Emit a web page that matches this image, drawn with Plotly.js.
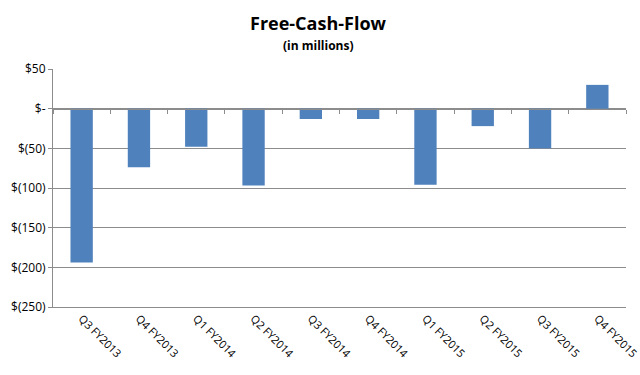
<!DOCTYPE html>
<html>
<head>
<meta charset="utf-8">
<script src="https://cdn.plot.ly/plotly-3.0.1.min.js"></script>
<style>html,body{margin:0;padding:0;background:#fff;}#chart{width:640px;height:375px;}</style>
</head>
<body>
<div id="chart"></div>
<script>
var categories = ["Q3 FY2013","Q4 FY2013","Q1 FY2014","Q2 FY2014","Q3 FY2014","Q4 FY2014","Q1 FY2015","Q2 FY2015","Q3 FY2015","Q4 FY2015"];
var freeCashFlow = [-194, -74, -48, -97, -13, -13, -96, -22, -50, 30];
var yTickVals = [50, 0, -50, -100, -150, -200, -250];
var yTickText = ["$50", "$-", "$(50)", "$(100)", "$(150)", "$(200)", "$(250)"];
var titleText = "Free-Cash-Flow";
var subtitleText = "(in millions)";

var yMin = -250, yMax = 50;
var zeroPos = (0 - yMin) / (yMax - yMin);
var font = "Open Sans, Lato, sans-serif";

var traces = [
  {type: "bar", x: categories, y: freeCashFlow, marker: {color: "#4f81bd"}, hoverinfo: "x+y"},
  {type: "bar", x: categories, y: freeCashFlow, xaxis: "x2", marker: {color: "rgba(0,0,0,0)"}, hoverinfo: "skip", showlegend: false}
];

var layout = {
  width: 640, height: 375,
  margin: {l: 53, r: 14, t: 69, b: 68},
  paper_bgcolor: "#fff", plot_bgcolor: "#fff",
  showlegend: false,
  bargap: 0.61,
  annotations: [
    {text: "<b>" + titleText + "</b>", xref: "paper", yref: "paper", x: 0.463, y: 1.193,
     xanchor: "center", yanchor: "middle", showarrow: false,
     font: {family: font, size: 18, color: "#000"}},
    {text: "<b>" + subtitleText + "</b>", xref: "paper", yref: "paper", x: 0.463, y: 1.1,
     xanchor: "center", yanchor: "middle", showarrow: false,
     font: {family: font, size: 12, color: "#000"}}
  ],
  xaxis: {
    type: "category", categoryorder: "array", categoryarray: categories,
    range: [-0.5, 9.5],
    showline: true, linecolor: "#8c8c8c", linewidth: 1,
    ticks: "", tickangle: 45,
    tickfont: {family: font, size: 11, color: "#000"},
    showgrid: false, zeroline: false
  },
  xaxis2: {
    type: "category", categoryorder: "array", categoryarray: categories,
    range: [-0.5, 9.5],
    overlaying: "x", anchor: "free", position: zeroPos, side: "bottom",
    showline: true, linecolor: "#8c8c8c", linewidth: 1,
    ticks: "outside", tickson: "boundaries", ticklen: 4, tickcolor: "#8c8c8c",
    showticklabels: false, showgrid: false, zeroline: false
  },
  yaxis: {
    range: [yMin, yMax],
    tickvals: yTickVals, ticktext: yTickText,
    ticks: "outside", ticklen: 4, tickcolor: "#8c8c8c",
    showline: true, linecolor: "#8c8c8c", linewidth: 1,
    showgrid: true, gridcolor: "#8c8c8c", gridwidth: 1,
    zeroline: false,
    tickfont: {family: font, size: 12, color: "#000"}
  }
};

Plotly.newPlot("chart", traces, layout, {displayModeBar: false, staticPlot: true});
</script>
</body>
</html>
